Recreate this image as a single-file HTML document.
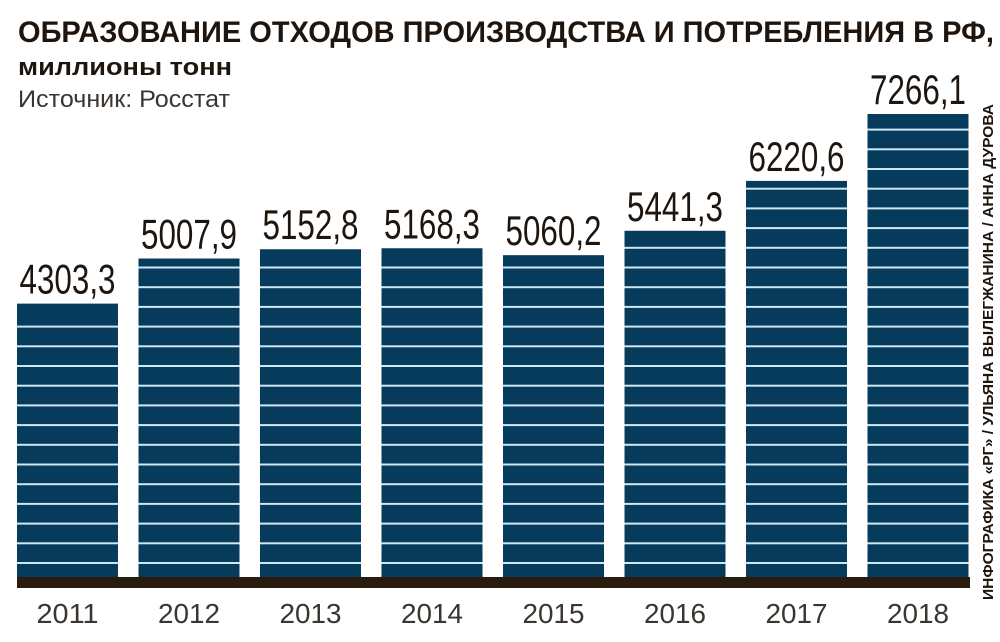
<!DOCTYPE html>
<html><head><meta charset="utf-8"><style>
html,body{margin:0;padding:0;background:#fff;}
svg{display:block;font-family:"Liberation Sans","DejaVu Sans",sans-serif;}
</style></head><body>
<svg width="1000" height="642" viewBox="0 0 1000 642" xmlns="http://www.w3.org/2000/svg">
<text x="18" y="42" font-size="30" font-weight="bold" fill="#1e150e" textLength="976" lengthAdjust="spacingAndGlyphs">ОБРАЗОВАНИЕ ОТХОДОВ ПРОИЗВОДСТВА И ПОТРЕБЛЕНИЯ В РФ,</text>
<text x="18" y="75" font-size="24" font-weight="bold" fill="#1e150e" textLength="214" lengthAdjust="spacingAndGlyphs">миллионы тонн</text>
<text x="18" y="107" font-size="24" fill="#3a3530" textLength="212" lengthAdjust="spacingAndGlyphs">Источник: Росстат</text>
<text transform="translate(993,600) rotate(-90)" font-size="15" font-weight="bold" fill="#1e150e" textLength="496" lengthAdjust="spacingAndGlyphs">ИНФОГРАФИКА «РГ» / УЛЬЯНА ВЫЛЕГЖАНИНА / АННА ДУРОВА</text>
<g id="bars"></g>
<rect x="17" y="577" width="953" height="11" fill="#2a1b0f"/>
</svg>
<script>
const categories = ["2011","2012","2013","2014","2015","2016","2017","2018"];
const values = [4303.3, 5007.9, 5152.8, 5168.3, 5060.2, 5441.3, 6220.6, 7266.1];
const valueLabels = ["4303,3","5007,9","5152,8","5168,3","5060,2","5441,3","6220,6","7266,1"];
const NS="http://www.w3.org/2000/svg";
const g=document.getElementById('bars');
const baseY=579, plotH=465, maxV=7266.1;
const y=v=>baseY - v/maxV*plotH;
const x0=17, step=121.5, bw=101;
function mk(tag,attrs){const e=document.createElementNS(NS,tag);for(const k in attrs)e.setAttribute(k,attrs[k]);return e;}
categories.forEach((c,i)=>{
  const bx=x0+i*step, top=y(values[i]);
  const r=mk('rect',{x:bx,y:top,width:bw,height:baseY-top,fill:'#073b5b'});
  
  
  g.appendChild(r);
  for(let ly=563; ly>top+4; ly-=19.7){
    const l=mk('rect',{x:bx,y:ly-1,width:bw,height:2,fill:'#cfe6f3'});
    
    
    g.appendChild(l);
  }
  const t=mk('text',{x:bx+bw/2,y:top-10,'text-anchor':'middle','font-size':'42',fill:'#1e150e',textLength:'96',lengthAdjust:'spacingAndGlyphs'});
  t.textContent=valueLabels[i];
  
  
  g.appendChild(t);
  const yl=mk('text',{x:bx+bw/2,y:623,'text-anchor':'middle','font-size':'28',fill:'#3a3530',textLength:'62',lengthAdjust:'spacingAndGlyphs'});
  yl.textContent=c;
  
  
  g.appendChild(yl);
});
</script>
</body></html>
